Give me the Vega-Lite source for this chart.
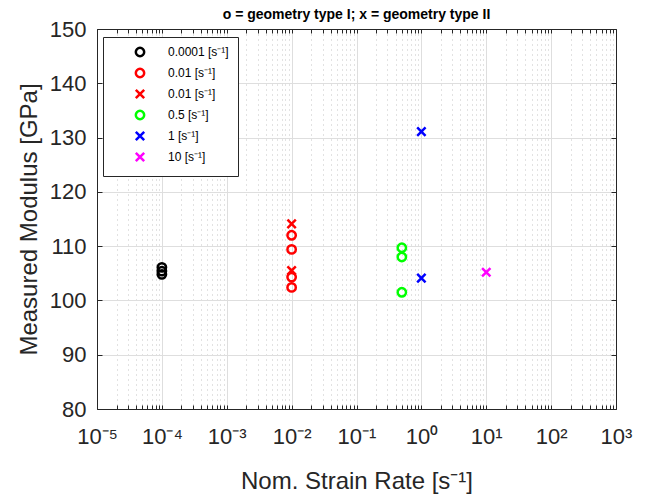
{
  "$schema": "https://vega.github.io/schema/vega-lite/v6.json",
  "width": 519,
  "height": 380,
  "autosize": {"type": "none"},
  "padding": {"left": 97, "top": 29, "right": 34, "bottom": 88},
  "background": "white",
  "config": {
    "view": {"stroke": null},
    "font": "Liberation Sans",
    "axis": {
      "domainColor": "#262626",
      "domainWidth": 1,
      "tickColor": "#262626",
      "labelColor": "#262626",
      "titleColor": "#262626",
      "labelFont": "Liberation Sans",
      "titleFont": "Liberation Sans",
      "labelFontSize": 22,
      "titleFontSize": 24,
      "titleFontWeight": "normal",
      "labelOverlap": false,
      "labelFlush": false,
      "labelBound": false
    }
  },
  "title": {
    "text": "o = geometry type I; x = geometry type II",
    "fontSize": 14,
    "fontWeight": "bold",
    "color": "#000000",
    "font": "Liberation Sans",
    "anchor": "middle",
    "offset": -4
  },
  "data": {
    "values": [
      {"rate": 0.0001, "modulus": 106.1, "series": "0.0001"},
      {"rate": 0.0001, "modulus": 105.4, "series": "0.0001"},
      {"rate": 0.0001, "modulus": 104.8, "series": "0.0001"},
      {"rate": 0.01, "modulus": 112.0, "series": "0.01o"},
      {"rate": 0.01, "modulus": 109.4, "series": "0.01o"},
      {"rate": 0.01, "modulus": 104.3, "series": "0.01o"},
      {"rate": 0.01, "modulus": 102.4, "series": "0.01o"},
      {"rate": 0.01, "modulus": 114.1, "series": "0.01x"},
      {"rate": 0.01, "modulus": 105.5, "series": "0.01x"},
      {"rate": 0.5, "modulus": 109.7, "series": "0.5"},
      {"rate": 0.5, "modulus": 108.0, "series": "0.5"},
      {"rate": 0.5, "modulus": 101.5, "series": "0.5"},
      {"rate": 1, "modulus": 131.1, "series": "1"},
      {"rate": 1, "modulus": 104.1, "series": "1"},
      {"rate": 10, "modulus": 105.2, "series": "10"}
    ]
  },
  "layer": [
    {
      "mark": {"type": "point", "filled": false, "strokeWidth": 2.5, "size": 70, "opacity": 1},
      "encoding": {
        "x": {
          "field": "rate",
          "type": "quantitative",
          "scale": {"type": "log", "domain": [0.00001, 1000], "nice": false},
          "axis": {
            "orient": "bottom",
            "values": [0.00001, 0.00002, 0.00003, 0.00004, 0.00005, 0.00006, 0.00007, 0.00008, 0.00009,
                       0.0001, 0.0002, 0.0003, 0.0004, 0.0005, 0.0006, 0.0007, 0.0008, 0.0009,
                       0.001, 0.002, 0.003, 0.004, 0.005, 0.006, 0.007, 0.008, 0.009,
                       0.01, 0.02, 0.03, 0.04, 0.05, 0.06, 0.07, 0.08, 0.09,
                       0.1, 0.2, 0.3, 0.4, 0.5, 0.6, 0.7, 0.8, 0.9,
                       1, 2, 3, 4, 5, 6, 7, 8, 9,
                       10, 20, 30, 40, 50, 60, 70, 80, 90,
                       100, 200, 300, 400, 500, 600, 700, 800, 900, 1000],
            "labelExpr": "abs(log(datum.value)/LN10 - round(log(datum.value)/LN10)) < 0.001 ? '10' + ['⁻⁵','⁻⁴','⁻³','⁻²','⁻¹','⁰','¹','²','³'][round(log(datum.value)/LN10)+5] : ''",
            "title": "Nom. Strain Rate [s⁻¹]",
            "grid": true,
            "gridColor": {"condition": {"test": "abs(log(datum.value)/LN10 - round(log(datum.value)/LN10)) < 0.001", "value": "#dedede"}, "value": "#c4c4c4"},
            "gridDash": {"condition": {"test": "abs(log(datum.value)/LN10 - round(log(datum.value)/LN10)) < 0.001", "value": []}, "value": [1, 4]},
            "ticks": true,
            "tickSize": -4,
            "labelPadding": 21,
            "titlePadding": 22
          }
        },
        "y": {
          "field": "modulus",
          "type": "quantitative",
          "scale": {"domain": [80, 150], "nice": false, "zero": false},
          "axis": {
            "orient": "left",
            "values": [80, 90, 100, 110, 120, 130, 140, 150],
            "title": "Measured Modulus [GPa]",
            "grid": true,
            "gridColor": "#dedede",
            "ticks": true,
            "tickSize": -5,
            "labelPadding": 16,
            "titlePadding": 8
          }
        },
        "color": {
          "field": "series",
          "type": "nominal",
          "scale": {
            "domain": ["0.0001", "0.01o", "0.01x", "0.5", "1", "10"],
            "range": ["#000000", "#ff0000", "#ff0000", "#00ff00", "#0000ff", "#ff00ff"]
          },
          "legend": {
            "orient": "none",
            "legendX": 6,
            "legendY": 8,
            "title": null,
            "labelExpr": "replace(replace(datum.label, 'o', ''), 'x', '') + ' [s⁻¹]'",
            "labelFontSize": 12,
            "labelFont": "Liberation Sans",
            "labelColor": "#000000",
            "symbolSize": 70,
            "symbolStrokeWidth": 2.5,
            "strokeColor": "#262626",
            "fillColor": "white",
            "padding": 9,
            "rowPadding": 1,
            "symbolOffset": 22,
            "labelOffset": 22
          }
        },
        "shape": {
          "field": "series",
          "type": "nominal",
          "scale": {
            "domain": ["0.0001", "0.01o", "0.01x", "0.5", "1", "10"],
            "range": ["circle", "circle", "M-1,-1L1,1M-1,1L1,-1", "circle", "M-1,-1L1,1M-1,1L1,-1", "M-1,-1L1,1M-1,1L1,-1"]
          }
        }
      }
    },
    {
      "mark": {"type": "point", "opacity": 0},
      "encoding": {
        "x": {
          "field": "rate",
          "type": "quantitative",
          "axis": {
            "orient": "top",
            "values": [0.00001, 0.00002, 0.00003, 0.00004, 0.00005, 0.00006, 0.00007, 0.00008, 0.00009,
                       0.0001, 0.0002, 0.0003, 0.0004, 0.0005, 0.0006, 0.0007, 0.0008, 0.0009,
                       0.001, 0.002, 0.003, 0.004, 0.005, 0.006, 0.007, 0.008, 0.009,
                       0.01, 0.02, 0.03, 0.04, 0.05, 0.06, 0.07, 0.08, 0.09,
                       0.1, 0.2, 0.3, 0.4, 0.5, 0.6, 0.7, 0.8, 0.9,
                       1, 2, 3, 4, 5, 6, 7, 8, 9,
                       10, 20, 30, 40, 50, 60, 70, 80, 90,
                       100, 200, 300, 400, 500, 600, 700, 800, 900, 1000],
            "labels": false,
            "title": null,
            "grid": false,
            "ticks": true,
            "tickSize": -4
          }
        },
        "y": {
          "field": "modulus",
          "type": "quantitative",
          "axis": {
            "orient": "right",
            "values": [80, 90, 100, 110, 120, 130, 140, 150],
            "labels": false,
            "title": null,
            "grid": false,
            "ticks": true,
            "tickSize": -5
          }
        }
      }
    }
  ],
  "resolve": {"axis": {"x": "independent", "y": "independent"}}
}
